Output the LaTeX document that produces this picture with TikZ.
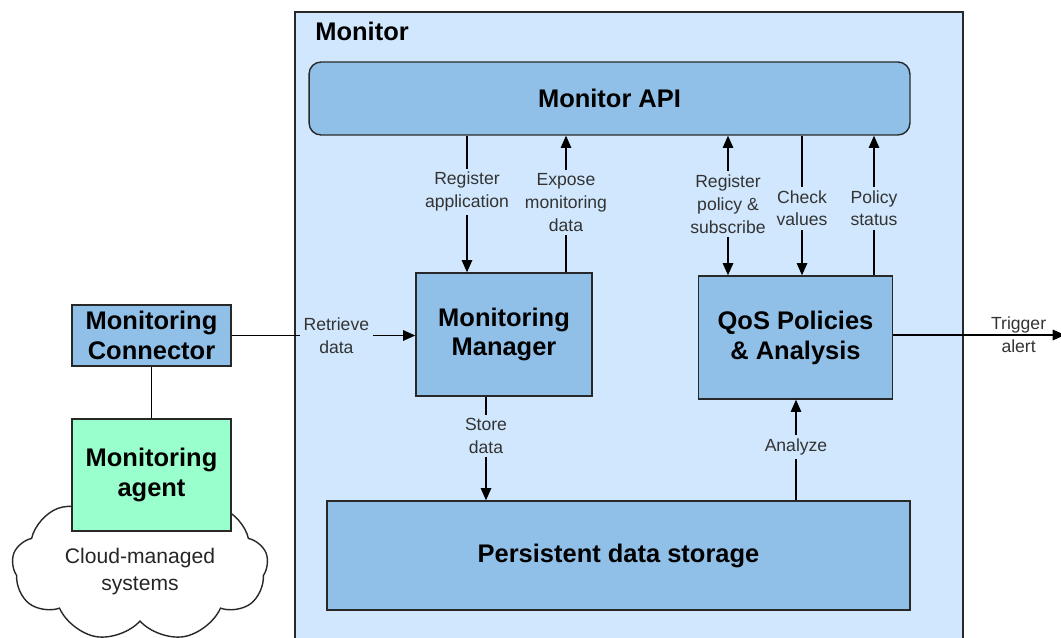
\documentclass[tikz,border=0pt]{standalone}
\usepackage{fontspec}
\setmainfont{Liberation Sans}
\usetikzlibrary{arrows.meta,shapes.symbols}
\definecolor{framefill}{RGB}{208,231,253}
\definecolor{boxfill}{RGB}{144,192,232}
\definecolor{agentfill}{RGB}{153,255,204}
\definecolor{edge}{RGB}{40,40,40}
\tikzset{
  frame/.style={draw=edge, fill=framefill, line width=0.9pt},
  box/.style={draw=edge, fill=boxfill, line width=0.8pt, align=center,
    font=\fontsize{14.5}{17}\selectfont\bfseries},
  lbl/.style={fill=framefill, inner sep=2pt, align=center,
    font=\fontsize{10}{13}\selectfont, text=black!80},
  arr/.style={-{Triangle[length=7pt,width=6pt]}, line width=0.8pt},
  link/.style={line width=0.8pt}
}
\begin{document}
\begin{tikzpicture}[x=0.02cm, y=-0.02cm]
  \useasboundingbox (0,0) rectangle (1061,638);
  \draw[frame] (295,12) rectangle (963,660);
  \node[anchor=west, inner sep=0, font=\fontsize{14.5}{17}\selectfont\bfseries] (monitor) at (315,31) {Monitor};
  % boxes
  \node[box, rounded corners=0.24cm, minimum width=12.02cm, minimum height=1.46cm] (api) at (609.5,98.5) {Monitor API};
  \node[box, minimum width=3.52cm, minimum height=2.46cm] (mgr) at (504,334.5) {Monitoring\\Manager};
  \node[box, minimum width=3.88cm, minimum height=2.46cm] (qos) at (795.5,337.5) {QoS Policies\\\& Analysis};
  \node[box, minimum width=11.66cm, minimum height=2.18cm] (store) at (618.5,555.5) {Persistent data storage};
  \node[box, minimum width=3.18cm, minimum height=1.22cm] (conn) at (151.5,335.5) {Monitoring\\Connector};
  \node[cloud, draw=edge, fill=white, line width=0.8pt, cloud puffs=9, cloud puff arc=115, aspect=2,
    minimum width=5.12cm, minimum height=2.62cm, align=center, font=\fontsize{12}{15}\selectfont,
    text=black!85] (cloud) at (140,566) {\\Cloud-managed\\systems};
  \node[box, fill=agentfill, minimum width=3.18cm, minimum height=2.24cm] (agent) at (151.5,475) {Monitoring\\agent};
  % x positions of the connectors
  \coordinate (xreg) at (467,0);
  \coordinate (xexp) at (566,0);
  \coordinate (xpol) at (728,0);
  \coordinate (xchk) at (802,0);
  \coordinate (xsta) at (874,0);
  \coordinate (xsto) at (486,0);
  \coordinate (xana) at (796,0);
  \coordinate (alert) at (1065,335);
  % connectors
  \draw[link] (conn) -- (agent);
  \draw[arr] (conn.east) -- node[lbl, pos=0.57]{Retrieve\\data} (mgr.west |- conn.east);
  \draw[arr] (api.south -| xreg) -- node[lbl, pos=0.41]{Register\\application} (mgr.north -| xreg);
  \draw[arr] (mgr.north -| xexp) -- node[lbl, pos=0.51]{Expose\\monitoring\\data} (api.south -| xexp);
  \draw[arr, {Triangle[length=7pt,width=6pt]}-{Triangle[length=7pt,width=6pt]}] (qos.north -| xpol) -- node[lbl, pos=0.51]{Register\\policy \&\\subscribe} (api.south -| xpol);
  \draw[arr] (api.south -| xchk) -- node[lbl, pos=0.52]{Check\\values} (qos.north -| xchk);
  \draw[arr] (qos.north -| xsta) -- node[lbl, pos=0.48]{Policy\\status} (api.south -| xsta);
  \draw[arr] (mgr.south -| xsto) -- node[lbl, pos=0.38]{Store\\data} (store.north -| xsto);
  \draw[arr] (store.north -| xana) -- node[lbl, pos=0.53]{Analyze} (qos.south -| xana);
  \draw[arr] (qos.east |- alert) -- node[lbl, fill=none, pos=0.73]{Trigger\\alert} (alert);
\end{tikzpicture}
\end{document}
